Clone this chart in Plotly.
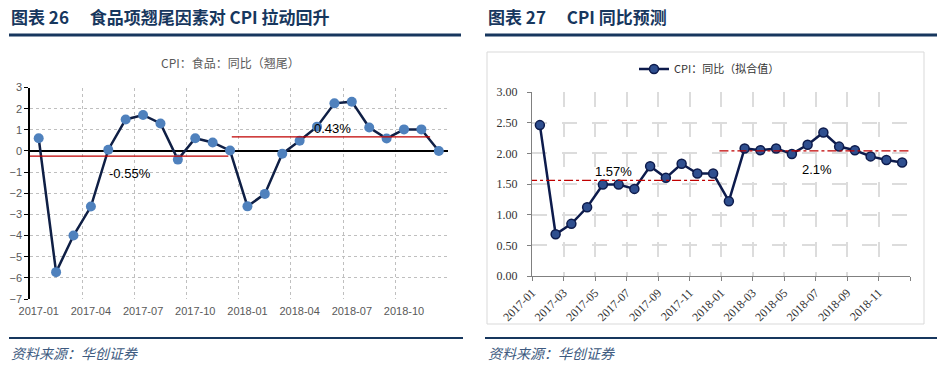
import plotly.graph_objects as go

W, H = 946, 372

# ---------------- data ----------------
months = [f"{y}-{m:02d}" for y in (2017, 2018) for m in range(1, 13)]

food_carry = [0.6, -5.73, -4.0, -2.63, 0.06, 1.49, 1.7, 1.3, -0.41, 0.6, 0.4, 0.02,
              -2.62, -2.03, -0.13, 0.48, 1.15, 2.25, 2.33, 1.11, 0.59, 1.02, 1.02, 0.0]
food_avg_2017 = -0.24
food_avg_2018 = 0.67
food_avg_labels = ["-0.55%", "0.43%"]

cpi_fit = [2.46, 0.68, 0.85, 1.12, 1.49, 1.49, 1.42, 1.79, 1.60, 1.83, 1.67, 1.67,
           1.22, 2.08, 2.05, 2.08, 1.99, 2.14, 2.34, 2.11, 2.05, 1.95, 1.89, 1.85]
cpi_avg_2017 = 1.56
cpi_avg_2018 = 2.04
cpi_avg_labels = ["1.57%", "2.1%"]

left_ticks = ["2017-01", "2017-04", "2017-07", "2017-10", "2018-01", "2018-04", "2018-07", "2018-10"]
right_ticks = ["2017-01", "2017-03", "2017-05", "2017-07", "2017-09", "2017-11",
               "2018-01", "2018-03", "2018-05", "2018-07", "2018-09", "2018-11", ""]

# ---------------- helpers ----------------
def px_x(p):
    return p / W

def px_y(p):
    return 1 - p / H

NAVY = "#17375e"
SANS = "Liberation Sans, Arial, Noto Sans CJK SC"
CJK = "Noto Sans CJK SC, Liberation Sans"
SERIF = "Liberation Serif, DejaVu Serif, serif"

fig = go.Figure()

# left chart
idx = list(range(len(months)))
fig.add_trace(go.Scatter(
    x=idx, y=food_carry, mode="lines+markers", xaxis="x", yaxis="y",
    line=dict(color="#0f1f45", width=2.5),
    marker=dict(color="#4f81bd", size=10),
    showlegend=False, hoverinfo="skip"))
fig.add_trace(go.Scatter(
    x=[-0.5, 10.9], y=[food_avg_2017] * 2, mode="lines", xaxis="x", yaxis="y",
    line=dict(color="#c00000", width=1.3), showlegend=False, hoverinfo="skip"))
fig.add_trace(go.Scatter(
    x=[11.1, 22.5], y=[food_avg_2018] * 2, mode="lines", xaxis="x", yaxis="y",
    line=dict(color="#c00000", width=1.3), showlegend=False, hoverinfo="skip"))

# right chart
xr = [i + 0.5 for i in idx]
fig.add_trace(go.Scatter(
    x=xr, y=cpi_fit, mode="lines+markers", xaxis="x2", yaxis="y2",
    name="CPI：同比（拟合值）",
    line=dict(color="#0d1b4c", width=2.5),
    marker=dict(color="#2f4f8f", size=9, line=dict(color="#0d1b4c", width=1.5)),
    showlegend=True, hoverinfo="skip"))
fig.add_trace(go.Scatter(
    x=[-0.25, 11.6], y=[cpi_avg_2017] * 2, mode="lines", xaxis="x2", yaxis="y2",
    line=dict(color="#c00000", width=1.2, dash="dashdot"), showlegend=False,
    hoverinfo="skip", cliponaxis=False))
fig.add_trace(go.Scatter(
    x=[11.9, 23.95], y=[cpi_avg_2018] * 2, mode="lines", xaxis="x2", yaxis="y2",
    line=dict(color="#c00000", width=1.2, dash="dashdot"), showlegend=False,
    hoverinfo="skip"))

grid_dot = dict(gridcolor="#bfbfbf", griddash="dot", gridwidth=1)

fig.update_layout(
    width=W, height=H,
    margin=dict(l=0, r=0, t=0, b=0, pad=0, autoexpand=False),
    paper_bgcolor="white", plot_bgcolor="white",
    font=dict(family=SANS, size=11, color="#595959"),
    xaxis=dict(
        domain=[px_x(30), px_x(447.5)], anchor="y", automargin=False,
        range=[-0.5, 23.5],
        tickmode="array", tickvals=[0, 3, 6, 9, 12, 15, 18, 21], ticktext=left_ticks,
        showgrid=False, zeroline=False, showline=False, ticks="",
        ticklabelstandoff=4,
        tickfont=dict(size=11, color="#595959"),
        minor=dict(tickmode="array", tickvals=[2.5 + 3 * k for k in range(8)],
                   showgrid=True, ticks="", **grid_dot),
    ),
    yaxis=dict(
        domain=[px_y(299), px_y(87.5)], anchor="x", automargin=False,
        range=[-7, 3], dtick=1, tick0=0,
        showline=True, linecolor="#000000", linewidth=1.5,
        ticks="outside", ticklen=4, tickcolor="#000000",
        zeroline=True, zerolinecolor="#000000", zerolinewidth=1.5,
        showgrid=True, **grid_dot,
        tickfont=dict(size=11, color="#595959"),
    ),
    xaxis3=dict(
        overlaying="x", anchor="free", position=px_y(150.7), automargin=False,
        range=[-0.5, 23.5], showline=False, showgrid=False, zeroline=False,
        tickmode="array", tickvals=[2.5 + 3 * k for k in range(8)],
        ticks="outside", ticklen=4, tickcolor="#000000", showticklabels=False,
    ),
    xaxis2=dict(
        domain=[px_x(532), px_x(910)], anchor="y2", automargin=False,
        range=[0, 24],
        tickmode="array", tickvals=list(range(0, 25, 2)), ticktext=right_ticks,
        tickangle=-45,
        showline=True, linecolor="#808080", linewidth=1,
        ticks="outside", ticklen=4, tickcolor="#808080",
        showgrid=True, gridcolor="#dcdcdc", gridwidth=2, griddash="longdash",
        zeroline=False,
        tickfont=dict(family=SERIF, size=12, color="#333333"),
    ),
    yaxis2=dict(
        domain=[px_y(276), px_y(92)], anchor="x2", automargin=False,
        range=[0, 3], dtick=0.5, tick0=0, tickformat=".2f",
        showline=True, linecolor="#808080", linewidth=1,
        ticks="outside", ticklen=4, tickcolor="#808080",
        ticklabelstandoff=7,
        showgrid=True, gridcolor="#dcdcdc", gridwidth=2, griddash="longdash",
        zeroline=False,
        tickfont=dict(family=SERIF, size=12, color="#333333"),
    ),
    legend=dict(
        x=px_x(634), y=px_y(69), xanchor="left", yanchor="middle",
        bgcolor="rgba(0,0,0,0)", itemwidth=30,
        font=dict(family=CJK, size=11, color="#333333"),
    ),
)

# header / footer texts
anns = [
    dict(text="<b>图表 26</b>\u2003 <b>食品项翘尾因素对 CPI 拉动回升</b>", x=px_x(9), y=px_y(17),
         xanchor="left", yanchor="middle", font=dict(family=CJK, size=17, color=NAVY)),
    dict(text="<b>图表 27</b>\u2003 <b>CPI 同比预测</b>", x=px_x(486), y=px_y(17),
         xanchor="left", yanchor="middle", font=dict(family=CJK, size=17, color=NAVY)),
    dict(text="<i>资料来源：华创证券</i>", x=px_x(9), y=px_y(353),
         xanchor="left", yanchor="middle", font=dict(family=CJK, size=14, color="#3d5a80")),
    dict(text="<i>资料来源：华创证券</i>", x=px_x(486), y=px_y(353),
         xanchor="left", yanchor="middle", font=dict(family=CJK, size=14, color="#3d5a80")),
    dict(text="CPI：食品：同比（翘尾）", x=px_x(230), y=px_y(63),
         xanchor="center", yanchor="middle", font=dict(family=CJK, size=12, color="#595959")),
]
for a in anns:
    a.update(xref="paper", yref="paper", showarrow=False)

# value labels on the charts
anns += [
    dict(text=food_avg_labels[0], x=5.23, y=-1.06, xref="x", yref="y", showarrow=False,
         font=dict(family=SANS, size=13, color="#000000")),
    dict(text=food_avg_labels[1], x=16.9, y=1.07, xref="x", yref="y", showarrow=False,
         font=dict(family=SANS, size=13, color="#000000")),
    dict(text=cpi_avg_labels[0], x=5.2, y=1.71, xref="x2", yref="y2", showarrow=False,
         font=dict(family=SANS, size=13, color="#000000")),
    dict(text=cpi_avg_labels[1], x=18.1, y=1.74, xref="x2", yref="y2", showarrow=False,
         font=dict(family=SANS, size=13, color="#000000")),
]
fig.update_layout(annotations=anns)

# decorative lines and box
shapes = [
    dict(type="line", x0=px_x(9), x1=px_x(461), y0=px_y(35), y1=px_y(35),
         line=dict(color=NAVY, width=3)),
    dict(type="line", x0=px_x(485), x1=px_x(937), y0=px_y(35), y1=px_y(35),
         line=dict(color=NAVY, width=3)),
    dict(type="line", x0=px_x(9), x1=px_x(463), y0=px_y(338), y1=px_y(338),
         line=dict(color=NAVY, width=2)),
    dict(type="line", x0=px_x(485), x1=px_x(937), y0=px_y(338), y1=px_y(338),
         line=dict(color=NAVY, width=2)),
    dict(type="rect", x0=px_x(487), x1=px_x(924), y0=px_y(324), y1=px_y(52),
         line=dict(color="#d9d9d9", width=1), layer="below"),
]
for s in shapes:
    s.update(xref="paper", yref="paper")
fig.update_layout(shapes=shapes)

fig.write_html("out.html", config={"displayModeBar": False},
               post_script="document.body.style.margin='0';")
